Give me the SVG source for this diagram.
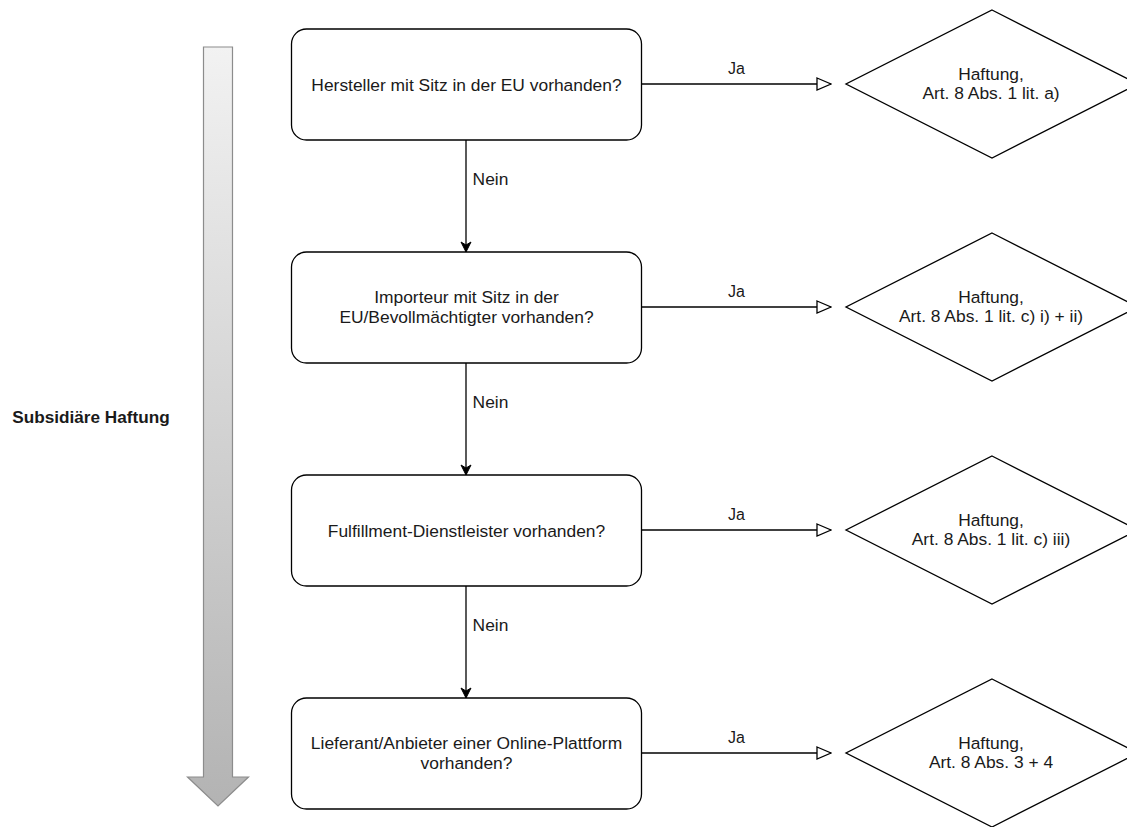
<svg xmlns="http://www.w3.org/2000/svg" width="1127" height="827" viewBox="0 0 1127 827">
<style>
text{font-family:"Liberation Sans",Arial,sans-serif;font-size:17.4px;fill:#1a1a1a;text-anchor:middle}
.lbl{font-size:16px}
.box{fill:#fff;stroke:#000;stroke-width:1.3}
.dia{fill:#fff;stroke:#000;stroke-width:1.3}
.ln{fill:none;stroke:#000;stroke-width:1.3}
</style>
<defs>
<linearGradient id="g" x1="0" y1="0" x2="0" y2="1">
<stop offset="0" stop-color="#f2f2f2"/>
<stop offset="1" stop-color="#b3b3b3"/>
</linearGradient>
<marker id="fa" viewBox="0 0 12 12" markerWidth="12" markerHeight="12" refX="11" refY="6" orient="auto" markerUnits="userSpaceOnUse">
<path d="M1,1 L11,6 L1,11 L4,6 Z" fill="#000" stroke="#000" stroke-width="1"/>
</marker>
<marker id="oa" viewBox="0 0 16 14" markerWidth="16" markerHeight="14" refX="15" refY="7" orient="auto" markerUnits="userSpaceOnUse">
<path d="M1,1 L15,7 L1,13 Z" fill="#fff" stroke="#000" stroke-width="1.3"/>
</marker>
</defs>
<rect width="1127" height="827" fill="#fff"/>
<g id="side">
<path d="M203.5,47 L232.5,47 L232.5,777 L248.5,777 L218,806 L187.5,777 L203.5,777 Z" fill="url(#g)" stroke="#8c8c8c" stroke-width="1.2"/>
<text x="91" y="423" style="font-weight:bold;font-size:17.2px">Subsidiäre Haftung</text>
</g>
<g id="connectors">
<line class="ln" x1="466" y1="140" x2="466" y2="252" marker-end="url(#fa)"/>
<line class="ln" x1="466" y1="363" x2="466" y2="475" marker-end="url(#fa)"/>
<line class="ln" x1="466" y1="586" x2="466" y2="698" marker-end="url(#fa)"/>
<text x="490.5" y="185">Nein</text>
<text x="490.5" y="408">Nein</text>
<text x="490.5" y="631">Nein</text>
<line class="ln" x1="641.5" y1="84" x2="831" y2="84" marker-end="url(#oa)"/>
<line class="ln" x1="641.5" y1="307" x2="831" y2="307" marker-end="url(#oa)"/>
<line class="ln" x1="641.5" y1="530" x2="831" y2="530" marker-end="url(#oa)"/>
<line class="ln" x1="641.5" y1="753" x2="831" y2="753" marker-end="url(#oa)"/>
<text class="lbl" x="736.5" y="74">Ja</text>
<text class="lbl" x="736.5" y="297">Ja</text>
<text class="lbl" x="736.5" y="520">Ja</text>
<text class="lbl" x="736.5" y="743">Ja</text>
</g>
<g id="q1">
<rect class="box" x="291.5" y="29" width="350" height="111" rx="15"/>
<text x="466.5" y="90.5">Hersteller mit Sitz in der EU vorhanden?</text>
</g>
<g id="q2">
<rect class="box" x="291.5" y="252" width="350" height="111" rx="15"/>
<text x="466.5" y="303">Importeur mit Sitz in der</text>
<text x="466.5" y="323">EU/Bevollmächtigter vorhanden?</text>
</g>
<g id="q3">
<rect class="box" x="291.5" y="475" width="350" height="111" rx="15"/>
<text x="466.5" y="536.5">Fulfillment-Dienstleister vorhanden?</text>
</g>
<g id="q4">
<rect class="box" x="291.5" y="698" width="350" height="111" rx="15"/>
<text x="466.5" y="749">Lieferant/Anbieter einer Online-Plattform</text>
<text x="466.5" y="769">vorhanden?</text>
</g>
<g id="r1">
<polygon class="dia" points="992,10 1138,84 992,158 846,84"/>
<text x="991" y="80">Haftung,</text>
<text x="991" y="99">Art. 8 Abs. 1 lit. a)</text>
</g>
<g id="r2">
<polygon class="dia" points="992,233 1138,307 992,381 846,307"/>
<text x="991" y="303">Haftung,</text>
<text x="991" y="322">Art. 8 Abs. 1 lit. c) i) + ii)</text>
</g>
<g id="r3">
<polygon class="dia" points="992,456 1138,530 992,604 846,530"/>
<text x="991" y="526">Haftung,</text>
<text x="991" y="545">Art. 8 Abs. 1 lit. c) iii)</text>
</g>
<g id="r4">
<polygon class="dia" points="992,679 1138,753 992,827 846,753"/>
<text x="991" y="749">Haftung,</text>
<text x="991" y="768">Art. 8 Abs. 3 + 4</text>
</g>
</svg>
